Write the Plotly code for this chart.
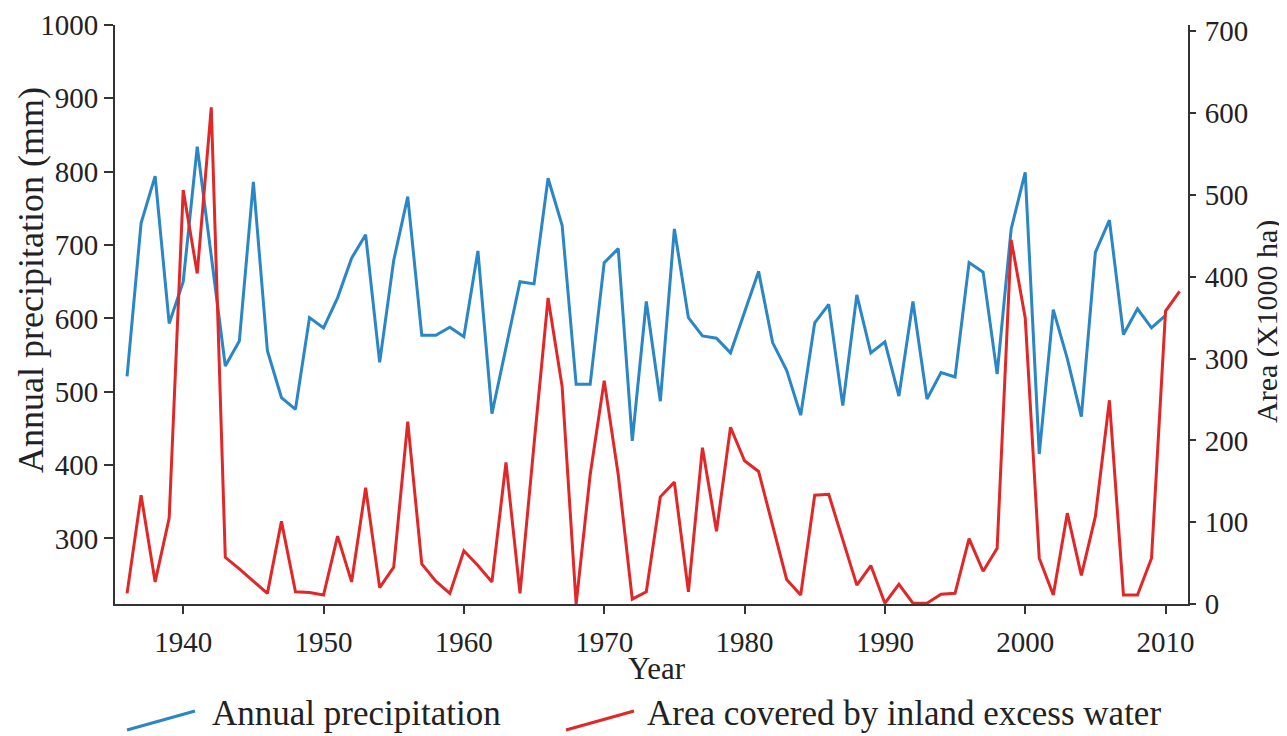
import plotly.graph_objects as go

# ---- data ----
precip_years = list(range(1936, 2011))
precip_mm = [
    521, 730, 794, 593, 650, 834, 685, 535, 569, 786,   # 1936-1945
    556, 492, 476, 601, 587, 628, 682, 714, 540, 679,   # 1946-1955
    766, 577, 577, 588, 575, 692, 470, 561, 650, 647,   # 1956-1965
    791, 727, 510, 510, 676, 695, 433, 623, 487, 722,   # 1966-1975
    601, 576, 573, 553, 609, 664, 567, 529, 468, 594,   # 1976-1985
    619, 481, 632, 553, 568, 494, 623, 490, 526, 520,   # 1986-1995
    676, 663, 524, 722, 799, 415, 612, 545, 466, 690,   # 1996-2005
    734, 578, 613, 587, 604,                            # 2006-2010
]

area_years = list(range(1936, 2012))
area_kha = [
    13, 133, 27, 105, 506, 404, 607, 57, 43, 28,        # 1936-1945
    13, 101, 15, 14, 11, 83, 27, 142, 20, 45,           # 1946-1955
    223, 49, 28, 13, 65, 47, 27, 173, 13, 195,          # 1956-1965
    374, 266, 0, 158, 273, 158, 6, 15, 131, 149,        # 1966-1975
    15, 191, 89, 216, 175, 162, 95, 30, 11, 133,        # 1976-1985
    134, 78, 23, 47, 1, 24, 1, 1, 12, 13,               # 1986-1995
    80, 40, 68, 445, 350, 56, 11, 111, 35, 107,         # 1996-2005
    249, 11, 11, 56, 358, 382,                          # 2006-2011
]

series_names = ["Annual precipitation", "Area covered by inland excess water"]
x_title = "Year"
left_title = "Annual precipitation (mm)"
right_title = "Area (X1000 ha)"

x_ticks = [1940, 1950, 1960, 1970, 1980, 1990, 2000, 2010]
left_ticks = [300, 400, 500, 600, 700, 800, 900, 1000]
right_ticks = [0, 100, 200, 300, 400, 500, 600, 700]

BLUE = "#2a86c5"
RED = "#e02828"
AXIS = "#333333"
TEXT = "#222222"
FONT = "Liberation Serif"

fig = go.Figure()
fig.add_trace(go.Scatter(
    x=precip_years, y=precip_mm, mode="lines", name=series_names[0],
    line=dict(color=BLUE, width=3), yaxis="y", showlegend=False))
fig.add_trace(go.Scatter(
    x=area_years, y=area_kha, mode="lines", name=series_names[1],
    line=dict(color=RED, width=3), yaxis="y2", showlegend=False))

axis_common = dict(showgrid=False, zeroline=False, showline=True, linecolor=AXIS,
                   linewidth=2, ticks="outside", tickcolor=AXIS, tickwidth=2,
                   automargin=False, ticklabeloverflow="allow",
                   tickfont=dict(family=FONT, size=29, color=TEXT))

# page body has an 8px default margin, so the figure is 8px smaller than the window
W, H = 1279, 728
TOP, BOTTOM, LEFT, RIGHT = 25, 604, 115, 1188   # plot-area edges in page pixels
fig.update_layout(
    width=W, height=H,
    margin=dict(l=LEFT - 8, r=W - (RIGHT - 8), t=TOP - 8, b=H - (BOTTOM - 8)),
    paper_bgcolor="white", plot_bgcolor="white",
    font=dict(family=FONT, color=TEXT),
    showlegend=False,
    xaxis=dict(range=[1935.14, 2011.6], tickvals=x_ticks, ticklen=8,
               ticklabelstandoff=3, **axis_common),
    yaxis=dict(range=[210.5, 1000], tickvals=left_ticks, ticklen=9, **axis_common),
    yaxis2=dict(range=[0, 707.7], tickvals=right_ticks, ticklen=6, overlaying="y",
                side="right", ticklabelstandoff=3, **axis_common),
)

def px_x(p):  # page x -> paper x
    return (p - LEFT) / float(RIGHT - LEFT)

def px_y(p):  # page y -> paper y
    return (BOTTOM - p) / float(BOTTOM - TOP)

annotations = [
    dict(text=left_title, x=px_x(9), y=px_y(280), textangle=-90, xanchor="left",
         font=dict(family=FONT, size=36, color=TEXT)),
    dict(text=right_title, x=px_x(1286), y=px_y(322), textangle=-90, xanchor="right",
         font=dict(family=FONT, size=30, color=TEXT)),
    dict(text=x_title, x=px_x(657), y=px_y(668),
         font=dict(family=FONT, size=31, color=TEXT)),
    dict(text=series_names[0], x=px_x(210), y=px_y(713), xanchor="left",
         font=dict(family=FONT, size=35, color=TEXT)),
    dict(text=series_names[1], x=px_x(645), y=px_y(713), xanchor="left",
         font=dict(family=FONT, size=35, color=TEXT)),
]
for a in annotations:
    a.setdefault("xanchor", "center")
    a.update(xref="paper", yref="paper", yanchor="middle", showarrow=False)

shapes = [
    dict(type="line", xref="paper", yref="paper",
         x0=px_x(127), y0=px_y(730), x1=px_x(195), y1=px_y(711),
         line=dict(color=BLUE, width=3)),
    dict(type="line", xref="paper", yref="paper",
         x0=px_x(566), y0=px_y(730), x1=px_x(634), y1=px_y(711),
         line=dict(color=RED, width=3)),
]

fig.update_layout(annotations=annotations, shapes=shapes)

fig.write_html("out.html")
